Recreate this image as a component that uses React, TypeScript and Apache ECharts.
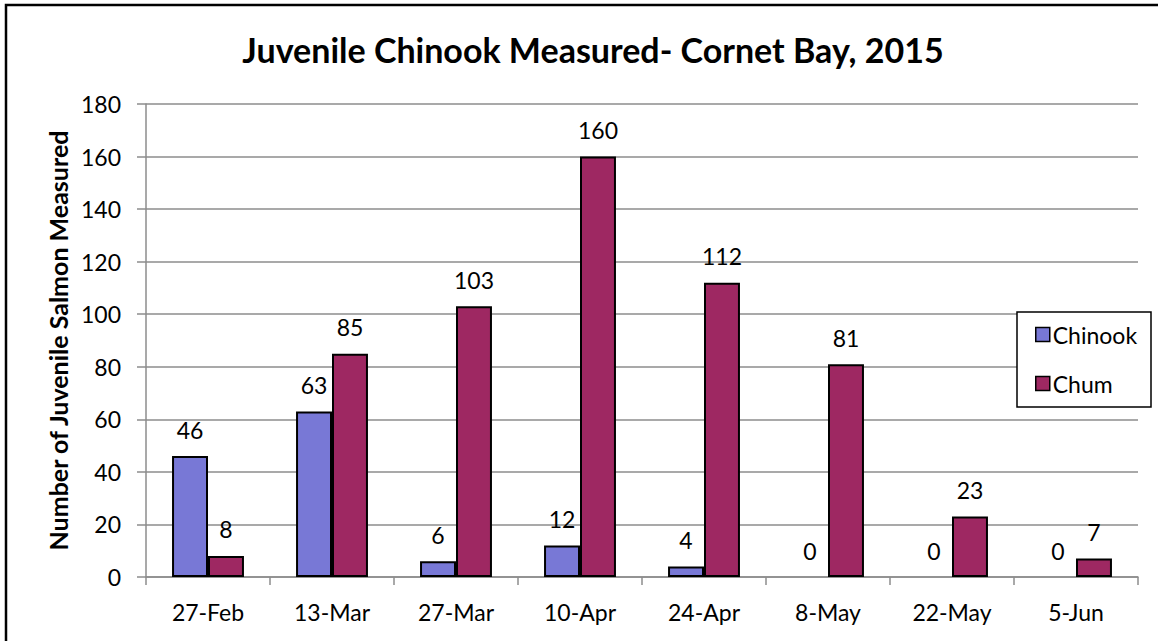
import React, { useEffect, useRef } from "react";
import * as echarts from "echarts";

const categories = ["27-Feb", "13-Mar", "27-Mar", "10-Apr", "24-Apr", "8-May", "22-May", "5-Jun"];
const chinook = [46, 63, 6, 12, 4, 0, 0, 0];
const chum = [8, 85, 103, 160, 112, 81, 23, 7];
const titleText = "Juvenile Chinook Measured- Cornet Bay, 2015";
const yAxisName = "Number of Juvenile Salmon Measured";

const FONT = "Lato";
const GRID_COLOR = "#8c8c8c";
const FS = 23;

const toBarData = (arr: number[]) =>
  arr.map((v) => (v === 0 ? { value: v, itemStyle: { borderWidth: 0 } } : v));

export default function App() {
  const ref = useRef<HTMLDivElement>(null);
  useEffect(() => {
    if (!ref.current) return;
    const chart = echarts.init(ref.current, undefined, { renderer: "svg" });
    const labelStyle = {
      show: true,
      position: "top" as const,
      distance: 15,
      fontFamily: FONT,
      fontSize: FS,
      color: "#000",
    };
    chart.setOption({
      animation: false,
      backgroundColor: "#fff",
      textStyle: { fontFamily: FONT },
      title: {
        text: titleText,
        left: 588,
        textAlign: "center",
        top: 27,
        textStyle: { fontFamily: FONT, fontWeight: "bold", fontSize: 34, color: "#000" },
      },
      graphic: [
        {
          type: "rect",
          shape: { x: 6, y: 5, width: 1200, height: 700 },
          style: { fill: "none", stroke: "#000", lineWidth: 2.5 },
          silent: true,
        },
        {
          type: "rect",
          shape: { x: 1017, y: 312, width: 134, height: 95 },
          style: { fill: "#fff", stroke: "#000", lineWidth: 1.5 },
          silent: true,
          z: 10,
        },
      ],
      legend: {
        orient: "vertical",
        left: 1030,
        top: 318,
        itemWidth: 14,
        itemHeight: 14,
        itemGap: 26,
        icon: "rect",
        z: 20,
        textStyle: { fontFamily: FONT, fontSize: FS, color: "#000", padding: [0, 0, 0, -2] },
        data: [
          { name: "Chinook", itemStyle: { borderColor: "#000", borderWidth: 1.5 } },
          { name: "Chum", itemStyle: { borderColor: "#000", borderWidth: 1.5 } },
        ],
      },
      grid: { left: 146, right: 20, top: 104, bottom: 64, containLabel: false },
      xAxis: {
        type: "category",
        data: categories,
        axisLine: { lineStyle: { color: GRID_COLOR, width: 1.5 } },
        axisTick: { show: true, length: 8, alignWithLabel: false, lineStyle: { color: GRID_COLOR, width: 1.5 } },
        axisLabel: { fontFamily: FONT, fontSize: FS, color: "#000", margin: 23 },
      },
      yAxis: {
        type: "value",
        min: 0,
        max: 180,
        interval: 20,
        name: yAxisName,
        nameLocation: "middle",
        nameGap: 76,
        nameTextStyle: { fontFamily: FONT, fontWeight: "bold", fontSize: 25, color: "#000" },
        axisLine: { show: true, lineStyle: { color: GRID_COLOR, width: 1.5 } },
        axisTick: { show: true, length: 9, lineStyle: { color: GRID_COLOR, width: 1.5 } },
        axisLabel: { fontFamily: FONT, fontSize: FS, color: "#000", margin: 25 },
        splitLine: { lineStyle: { color: GRID_COLOR, width: 1.5 } },
      },
      series: [
        {
          name: "Chinook",
          type: "bar",
          data: toBarData(chinook),
          barGap: "0%",
          barCategoryGap: "42%",
          itemStyle: { color: "#7878d6", borderColor: "#000", borderWidth: 2 },
          label: labelStyle,
        },
        {
          name: "Chum",
          type: "bar",
          data: toBarData(chum),
          barGap: "0%",
          barCategoryGap: "42%",
          itemStyle: { color: "#9e2862", borderColor: "#000", borderWidth: 2 },
          label: labelStyle,
        },
      ],
    });
    return () => chart.dispose();
  }, []);
  return (
    <div
      ref={ref}
      style={{ position: "fixed", left: 0, top: 0, width: 1158, height: 641 }}
    />
  );
}
